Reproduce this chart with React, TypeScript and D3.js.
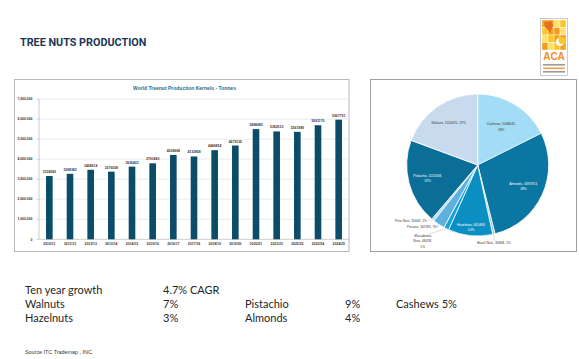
import React from "react";
import * as d3 from "d3";

// bar chart data (tonnes, kernel basis)
const seasons = [
  "2010/11", "2011/12", "2012/13", "2013/14", "2014/15", "2015/16", "2016/17", "2017/18",
  "2018/19", "2019/20", "2020/21", "2021/22", "2022/23", "2023/24", "2024/25",
];
const production = [
  3158583, 3268382, 3468914, 3376058, 3626433, 3791483, 4208668, 4132858,
  4446854, 4679135, 5498085, 5382510, 5361989, 5691170, 5967791,
];
const yTicks = [0, 1000000, 2000000, 3000000, 4000000, 5000000, 6000000, 7000000];

// pie data, clockwise from 12 o'clock
const nuts = ["Cashews", "Almonds", "Brazil Nuts", "Hazelnuts", "Macadamia Nuts", "Pecans", "Pine Nuts", "Pistachio", "Walnuts"];
const nutTonnes = [1048045, 1691913, 30808, 601468, 68428, 162392, 35643, 1155508, 1150670];
const nutColors = ["#a2dcf6", "#0a76a1", "#7cc3e3", "#0b8fc3", "#12a3dc", "#5eb1de", "#b3d8ee", "#0a6e97", "#c8dbee"];

// growth table
const growthRows = [
  ["Ten year growth", "4.7% CAGR", "", "", ""],
  ["Walnuts", "7%", "Pistachio", "9%", "Cashews 5%"],
  ["Hazelnuts", "3%", "Almonds", "4%", ""],
];

const W = 579;
const H = 359;

export default function App() {
  // bar chart
  const x = d3.scaleBand().domain(seasons).range([39, 349]).paddingInner(0.68).paddingOuter(0.34);
  const y = d3.scaleLinear().domain([0, 7000000]).range([239.3, 99]);
  const fmt = d3.format(",");

  // pie
  const cx = 477.7, cy = 165, r = 71;
  const total = d3.sum(nutTonnes);
  const pieData = d3.pie<number>().sort(null).value((d) => d)(nutTonnes);
  const arc = d3.arc<d3.PieArcDatum<number>>().innerRadius(0).outerRadius(r);
  const inside: Record<string, number> = { Cashews: 0.63, Almonds: 0.71, Hazelnuts: 0.88, Pistachio: 0.73, Walnuts: 0.72 };
  const outside: Record<string, { x: number; y: number; anchor: string; lines: string[] }> = {
    "Brazil Nuts": { x: 494, y: 244, anchor: "middle", lines: [] },
    "Pine Nuts": { x: 427, y: 221.5, anchor: "end", lines: [] },
    Pecans: { x: 437.5, y: 228, anchor: "end", lines: [] },
    "Macadamia Nuts": { x: 422.7, y: 236.5, anchor: "middle", lines: ["Macademia", "Nuts, 68428,", "1%"] },
  };
  const pct = (v: number) => Math.round((v / total) * 100) + "%";

  const logoCols = ["#f7a21b", "#fbc52c", "#fde16b", "#f59a1f"];

  return (
    <svg width={W} height={H} style={{ position: "absolute", left: 0, top: 0, background: "#fff" }}
      fontFamily="'Liberation Sans', Arial, sans-serif">
      <text x={20} y={46} fontSize={10.8} fontWeight="bold" fill="#1d3557" fontFamily="Roboto, sans-serif">TREE NUTS PRODUCTION</text>

      {/* logo */}
      <g>
        <rect x={540.5} y={18.5} width={27} height={57} fill="#fff" stroke="#bdbdbd" strokeWidth={0.8} />
        {d3.range(16).map((i) => (
          <rect key={i} x={542 + (i % 4) * 6} y={20 + Math.floor(i / 4) * 7.5} width={6} height={7.5}
            fill={logoCols[(i * 3 + Math.floor(i / 4)) % 4]} stroke="#fff" strokeWidth={0.4} />
        ))}
        <path d="M544,22 L551,21 L553,26 L550,33 L548,30 L545,27 Z" fill="#e9711c" />
        <circle cx={560} cy={42} r={4} fill="#fff" />
        <circle cx={562} cy={40.5} r={3.4} fill="#fbc52c" />
        <text x={554} y={60} fontSize={10} fontWeight="bold" fill="#f28b1e" textAnchor="middle">ACA</text>
        {[64, 67.5, 71].map((yy, i) => (
          <rect key={i} x={543} y={yy} width={22} height={1.6} fill={i === 1 ? "#f3a04a" : "#9a9a9a"} />
        ))}
      </g>

      {/* bar chart frame */}
      <rect x={14.5} y={79.5} width={334.5} height={172} fill="#fff" stroke="#b9b9b9" strokeWidth={1} />
      <text x={184.5} y={90} fontSize={5} fontWeight="bold" fill="#2a6a86" textAnchor="middle">
        World Treenut Production Kernels - Tonnes
      </text>
      {yTicks.map((t) => (
        <g key={t}>
          {t > 0 && <line x1={39} x2={349} y1={y(t)} y2={y(t)} stroke="#e6e6e6" strokeWidth={0.8} />}
          <line x1={36.5} x2={39} y1={y(t)} y2={y(t)} stroke="#a8a8a8" strokeWidth={0.5} />
          <text x={32.5} y={y(t) + 1.2} fontSize={3.4} fontWeight="bold" fill="#333" textAnchor="end">
            {t === 0 ? "0" : fmt(t)}
          </text>
        </g>
      ))}
      <line x1={39} x2={39} y1={99} y2={239.3} stroke="#a8a8a8" strokeWidth={0.6} />
      <line x1={39} x2={349} y1={239.3} y2={239.3} stroke="#a8a8a8" strokeWidth={0.6} />
      {seasons.map((s, i) => (
        <g key={s}>
          <rect x={x(s)} y={y(production[i])} width={x.bandwidth()} height={y(0) - y(production[i])} fill="#0b4c68" />
          <text x={x(s)! + x.bandwidth() / 2} y={y(production[i]) - 3} fontSize={3.4} fontWeight="bold" fill="#333" textAnchor="middle">
            {production[i]}
          </text>
          <text x={x(s)! + x.bandwidth() / 2} y={245} fontSize={3.4} fontWeight="bold" fill="#333" textAnchor="middle">{s}</text>
        </g>
      ))}

      {/* pie frame */}
      <rect x={370.5} y={79.5} width={206} height={172} fill="#fff" stroke="#9e9e9e" strokeWidth={1} />
      <g transform={`translate(${cx},${cy})`}>
        {pieData.map((d, i) => (
          <path key={nuts[i]} d={arc(d)!} fill={nutColors[i]} stroke="#fff" strokeWidth={0.8} />
        ))}
        {pieData.map((d, i) => {
          const name = nuts[i];
          const f = inside[name];
          if (!f) return null;
          const a = (d.startAngle + d.endAngle) / 2;
          const lx = Math.sin(a) * r * f;
          const ly = -Math.cos(a) * r * f;
          const dark = name === "Cashews" || name === "Walnuts";
          const oneLine = name === "Walnuts";
          const col = dark ? "#3a3a3a" : "#fff";
          return oneLine ? (
            <text key={name} x={lx} y={ly + 1} fontSize={3.3} fill={col} textAnchor="middle">
              {`${name}, ${nutTonnes[i]}, ${pct(nutTonnes[i])}`}
            </text>
          ) : (
            <text key={name} x={lx} y={ly - 1.5} fontSize={3.3} fill={col} textAnchor="middle">
              <tspan x={lx}>{`${name}, ${nutTonnes[i]},`}</tspan>
              <tspan x={lx} dy={5.5}>{pct(nutTonnes[i])}</tspan>
            </text>
          );
        })}
        {pieData.map((d, i) => {
          const o = outside[nuts[i]];
          if (!o) return null;
          const a = (d.startAngle + d.endAngle) / 2;
          const ex = Math.sin(a) * r;
          const ey = -Math.cos(a) * r;
          const tx = o.x - cx;
          const ty = o.y - cy;
          const lineEnd = o.anchor === "end" ? [tx + 1, ty - 1] : o.anchor === "middle" && o.lines.length ? [tx + 6, ty - 2.5] : [tx, ty - 3];
          return (
            <g key={nuts[i]}>
              <line x1={ex} y1={ey} x2={lineEnd[0]} y2={lineEnd[1]} stroke="#bdbdbd" strokeWidth={0.5} />
              <text x={tx} y={ty} fontSize={3.3} fill="#3a3a3a" textAnchor={o.anchor}>
                {o.lines.length
                  ? o.lines.map((l, k) => (
                      <tspan key={k} x={tx} dy={k === 0 ? 0 : 5.5}>{l}</tspan>
                    ))
                  : `${nuts[i]}, ${nutTonnes[i]}, ${pct(nutTonnes[i])}`}
              </text>
            </g>
          );
        })}
      </g>

      {/* growth table */}
      {growthRows.map((row, ri) => (
        <g key={ri} fontFamily="Lato, 'Open Sans', sans-serif" fontSize={11} fill="#262626">
          {row.map((cell, ci) => (
            <text key={ci} x={[25, 163, 245, 345, 396][ci]} y={294 + ri * 14}>{cell}</text>
          ))}
        </g>
      ))}
      <text x={25} y={354} fontSize={5.4} fill="#333">Source ITC Trademap , INC,</text>
    </svg>
  );
}
